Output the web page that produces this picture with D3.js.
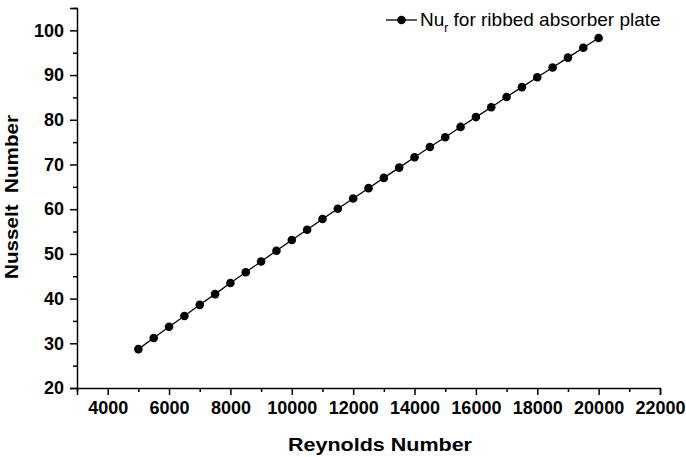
<!DOCTYPE html>
<head>
  <meta charset="utf-8">
  <style>
    body { margin: 0; background: #fff; }
    .axis text {
      fill: black;
      font-family: 'Liberation Sans', Arial, sans-serif;
      font-weight: bold;
      font-size: 18px;
    }
    .axis path, .axis line { stroke: black; stroke-width: 1.5; }
    .title {
      font-family: 'Liberation Sans', Arial, sans-serif;
      font-weight: bold;
      font-size: 19px;
    }
    .legend text {
      font-family: 'Liberation Sans', Arial, sans-serif;
      font-size: 19px;
    }
  </style>
</head>

<body>
  <script src="https://cdn.jsdelivr.net/npm/d3@7"></script>
  <script>
    // Reynolds number (x) and Nusselt number (y)
    const reynolds = [5000, 5500, 6000, 6500, 7000, 7500, 8000, 8500, 9000, 9500,
      10000, 10500, 11000, 11500, 12000, 12500, 13000, 13500, 14000, 14500,
      15000, 15500, 16000, 16500, 17000, 17500, 18000, 18500, 19000, 19500, 20000];
    const nusselt = [28.7, 31.2, 33.7, 36.1, 38.6, 41.0, 43.5, 45.9, 48.3, 50.7,
      53.1, 55.4, 57.8, 60.1, 62.4, 64.7, 67.0, 69.3, 71.6, 73.9,
      76.1, 78.4, 80.6, 82.8, 85.1, 87.3, 89.5, 91.7, 93.9, 96.1, 98.3];
    const xTicks = [4000, 6000, 8000, 10000, 12000, 14000, 16000, 18000, 20000, 22000];
    const xMinor = [3000, 5000, 7000, 9000, 11000, 13000, 15000, 17000, 19000, 21000];
    const yTicks = [20, 30, 40, 50, 60, 70, 80, 90, 100];
    const yMinor = [25, 35, 45, 55, 65, 75, 85, 95, 105];

    const width = 686;
    const height = 457;

    const svg = d3.select("body").append("svg")
      .attr("width", width)
      .attr("height", height);

    const xScale = d3.scaleLinear().domain([3000, 22000]).range([77, 660]);
    const yScale = d3.scaleLinear().domain([20, 105]).range([388, 8]);

    //-----------------------------AXES-----------------------------//
    svg.append("g")
      .attr("class", "axis")
      .attr("transform", "translate(0,388)")
      .call(d3.axisBottom(xScale).tickValues(xMinor).tickSize(4).tickFormat(""))
      .call(g => g.select(".domain").remove());

    svg.append("g")
      .attr("class", "axis")
      .attr("transform", "translate(0,388)")
      .call(d3.axisBottom(xScale).tickValues(xTicks).tickSizeOuter(0).tickSize(7)
        .tickPadding(6).tickFormat(d3.format("d")));

    svg.append("g")
      .attr("class", "axis")
      .attr("transform", "translate(77,0)")
      .call(d3.axisLeft(yScale).tickValues(yMinor).tickSize(4).tickFormat(""))
      .call(g => g.select(".domain").remove());

    svg.append("g")
      .attr("class", "axis")
      .attr("transform", "translate(77,0)")
      .call(d3.axisLeft(yScale).tickValues(yTicks).tickSizeOuter(0).tickSize(7)
        .tickPadding(6).tickFormat(d3.format("d")));

    svg.append("text")
      .attr("class", "title")
      .attr("x", 380)
      .attr("y", 451)
      .attr("text-anchor", "middle")
      .attr("textLength", 184)
      .attr("lengthAdjust", "spacingAndGlyphs")
      .text("Reynolds Number");

    svg.append("text")
      .attr("class", "title")
      .attr("transform", "translate(18,197) rotate(-90)")
      .attr("text-anchor", "middle")
      .attr("textLength", 164)
      .attr("lengthAdjust", "spacingAndGlyphs")
      .style("white-space", "pre")
      .text("Nusselt  Number");

    //----------------------------LINE-----------------------------//
    const pts = reynolds.map((r, i) => [r, nusselt[i]]);
    svg.append("path")
      .datum(pts)
      .attr("fill", "none")
      .attr("stroke", "black")
      .attr("stroke-width", 1.3)
      .attr("d", d3.line().x(d => xScale(d[0])).y(d => yScale(d[1])));

    svg.append("g").selectAll("circle").data(pts).enter().append("circle")
      .attr("cx", d => xScale(d[0]))
      .attr("cy", d => yScale(d[1]))
      .attr("r", 4.3)
      .attr("fill", "black");

    //----------------------------LEGEND-----------------------------//
    const legend = svg.append("g").attr("class", "legend");
    legend.append("line")
      .attr("x1", 386).attr("x2", 417).attr("y1", 20).attr("y2", 20)
      .attr("stroke", "black").attr("stroke-width", 1.3);
    legend.append("circle")
      .attr("cx", 401.5).attr("cy", 20).attr("r", 4.3).attr("fill", "black");
    const lt = legend.append("text").attr("x", 420).attr("y", 26);
    lt.append("tspan").text("Nu");
    lt.append("tspan").attr("font-size", "12px").attr("dy", 6).text("r");
    lt.append("tspan").attr("dy", -6).text("\u00a0for ribbed absorber plate");
  </script>
</body>
